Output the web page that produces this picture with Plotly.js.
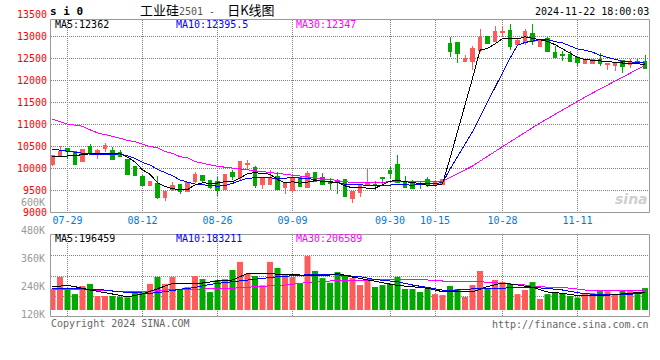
<!DOCTYPE html>
<html><head><meta charset="utf-8">
<script src="https://cdn.plot.ly/plotly-3.0.1.min.js"></script>
<style>
html,body{margin:0;padding:0;background:#fff;}
#chart{width:660px;height:360px;}
#chart .scatterlayer path.js-line{shape-rendering:crispEdges;}
#chart .boxlayer path{shape-rendering:crispEdges;}
</style>
</head><body><div id="chart"></div>
<script>
// ---------- data ----------
const TICK_IDX  = [2, 12, 22, 32, 45, 51, 60, 70];
const TICK_TEXT = ['07-29','08-12','08-26','09-09','09-30','10-15','10-28','11-11'];

const OPEN  = [10090,10290,10450,10380,10160,10490,10320,10460,10400,10360,10210,10045,9825,9625,9665,9350,9530,9640,9478,9713,
               9830,9730,9695,9522,9915,9801,10095,10034,9635,9640,9823,9560,9507,9801,9560,9898,9801,9700,9705,9748,
               9320,9462,9640,9640,9800,9966,10086,9673,9650,9655,9740,9640,9635,12838,12875,12434,12427,12691,13000,12890,
               13100,13132,12816,12860,13073,12779,12963,12632,12580,12596,12522,12390,12390,12485,12360,12340,12449,12360,12427,12427];
const HIGH  = [10305,10505,10460,10395,10440,10565,10450,10570,10500,10430,10215,10060,9860,9725,9830,9515,9690,9645,9700,9930,
               9860,9740,9800,9883,9960,10160,10190,10064,9790,9966,9913,9660,9823,9838,9951,9913,9898,9790,9760,9770,
               9500,9630,10005,9725,9810,10034,10310,9838,9733,9710,9800,9733,9750,12985,12880,12574,12794,13170,13022,13235,
               13235,13294,12963,13162,13294,12930,13000,12780,12670,12670,12530,12500,12500,12632,12395,12395,12460,12500,12485,12574];
const LOW   = [10060,10280,10220,10085,10140,10355,10210,10385,10200,10270,9855,9840,9600,9620,9310,9265,9490,9425,9465,9670,
               9700,9545,9372,9515,9750,9748,9980,9560,9545,9630,9515,9410,9470,9585,9555,9705,9620,9505,9430,9350,
               9210,9357,9635,9520,9640,9770,9673,9560,9530,9545,9590,9640,9630,12544,12397,12420,12250,12647,12830,12885,
               12985,12691,12810,12810,12816,12775,12660,12515,12448,12420,12338,12385,12385,12338,12228,12206,12177,12280,12380,12270];
const CLOSE = [10285,10390,10390,10095,10430,10360,10400,10530,10210,10280,9875,9850,9625,9715,9330,9478,9625,9478,9690,9867,
               9717,9575,9500,9861,9810,10154,10105,9613,9786,9786,9522,9650,9786,9590,9876,9710,9635,9650,9690,9357,
               9485,9613,9660,9630,9780,9876,9688,9575,9540,9645,9635,9680,9748,12669,12618,12500,12721,12985,12838,13110,
               13110,12765,12904,13110,12890,12912,12669,12522,12570,12427,12412,12449,12485,12390,12390,12390,12316,12412,12390,12280];

const MA5  = [10280,10270,10285,10290,10318,10333,10330,10340,10345,10340,10259,10149,9968,9869,9679,9590,9540,9520,9520,9628,
              9675,9665,9670,9700,9700,9780,9886,9905,9890,9870,9750,9671,9700,9667,9690,9722,9712,9692,9690,9605,
              9563,9559,9561,9552,9634,9712,9725,9710,9680,9660,9617,9615,9650,10230,10820,11420,12050,12690,12732,12831,
              12953,12962,12945,12995,12956,12916,12890,12815,12713,12620,12525,12476,12460,12433,12425,12418,12394,12382,12380,12362];
const MA10 = [10440,10415,10400,10375,10345,10325,10320,10320,10325,10330,10290,10230,10140,10080,9980,9910,9835,9740,9690,9645,
              9630,9608,9598,9613,9661,9728,9776,9790,9799,9790,9771,9779,9800,9780,9780,9742,9700,9699,9685,9640,
              9630,9620,9610,9615,9612,9630,9635,9630,9620,9645,9658,9665,9675,9984,10268,10530,10834,11175,11505,11851,
              12199,12507,12800,12866,12893,12934,12929,12883,12856,12788,12718,12687,12645,12573,12523,12471,12436,12425,12407,12395];
const MA30 = [11120,11060,11010,10985,10960,10880,10810,10770,10735,10690,10640,10610,10550,10500,10470,10390,10340,10270,10240,10160,
              10120,10080,10050,10030,10010,9990,9970,9950,9925,9915,9902,9877,9857,9840,9822,9800,9774,9745,9728,9697,
              9684,9676,9677,9674,9689,9703,9705,9708,9703,9696,9693,9697,9705,9798,9892,9970,10057,10170,10272,10383,
              10502,10605,10709,10826,10927,11034,11135,11231,11327,11429,11527,11622,11716,11808,11895,11979,12067,12161,12256,12344];

const VOLUME = [228000,280000,228000,206000,241000,250000,198000,198000,198000,195000,192000,215000,214000,250000,280000,250000,280000,225000,237000,284000,
                271000,215000,267000,271000,310000,345000,293000,284000,244000,345000,319000,288000,280000,253000,370000,306000,275000,255000,301000,284000,
                275000,245000,271000,237000,245000,250000,280000,228000,228000,215000,228000,206000,202000,241000,228000,194000,245000,306000,228000,267000,
                258000,250000,206000,224000,258000,185000,206000,211000,211000,198000,191000,206000,211000,219000,218000,206000,224000,224000,206000,232000];

const VMA5_IDX  = [0,2,3,5,8,10,12,14,16,19,22,24,26,28,30,33,37,38,40,42,44,46,48,50,52,54,56,58,60,62,64,66,68,70,73,75,77,79];
const VMA5      = [236700,244000,238000,224000,206500,193600,206500,228000,251800,249600,262500,266900,295700,294900,291400,288400,288400,294900,279800,266900,
                   253900,243100,238000,231100,216400,216400,215100,238800,253900,245300,235400,215100,209500,200000,197900,204300,210800,215100];
const VMA10_IDX = [0,4,6,8,10,13,15,17,19,21,24,26,28,30,33,35,37,39,41,43,46,48,50,52,54,57,59,62,64,66,68,70,72,75,77,79];
const VMA10     = [231000,229300,226800,219400,213000,209500,216400,226800,234500,248300,259500,266900,274200,281100,287100,291400,291400,285400,281100,269000,
                   259500,245300,235400,223700,223700,231100,231100,235400,235400,230200,223700,212100,205200,202200,205200,212100];
const VMA30_IDX = [0,4,8,13,15,20,24,27,29,31,33,35,37,41,46,50,52,57,60,63,66,68,71,75,79];
const VMA30     = [226800,226800,219400,219400,223700,226800,231100,238000,241000,245300,252600,259500,262500,266900,269900,266900,262500,259500,252600,245300,
                   235400,235400,223700,220700,219400];

const PRICE_TICKS = [9000,9500,10000,10500,11000,11500,12000,12500,13000,13500];
const VOL_TICKS = [120000,240000,360000,480000,600000];
const VOL_TICK_TEXT = ['120K','240K','360K','480K','600K'];

const HEAD_MAIN = ['MA5:12362','MA10:12395.5','MA30:12347'];
const HEAD_VOL  = ['MA5:196459','MA10:183211','MA30:206589'];

// ---------- styling / geometry ----------
const RED = '#ff5b5b', GREEN = '#00a800';
const MA_COLORS = ['#000000','#0000ff','#ff00ff'];
const MONO = 'DejaVu Sans Mono';
const W = 660, H = 360, ML = 51, MR = 10, MT = 10, MB = 43;
const PW = W - ML - MR, PH = H - MT - MB;
const py = p => (H - MB - p) / PH;   // pixel row -> paper y
const pxx = p => (p - ML) / PW;      // pixel col -> paper x

const PRICE_PER_PX = 500 / 22;
const mainBottomPx = 212.5, mainTopPx = 19.5;
const PRICE_MIN = 9000, PRICE_MAX = PRICE_MIN + (mainBottomPx - mainTopPx) * PRICE_PER_PX;
const priceToPx = p => mainBottomPx - (p - PRICE_MIN) / PRICE_PER_PX;

const VOL_PER_PX = 4312, VOL_BASE = 137500, volBasePx = 310, volTopPx = 234.5, volBottomPx = 316.5;
const VOL_MIN = VOL_BASE - (H - MB - volBasePx) * VOL_PER_PX;
const VOL_MAX = VOL_BASE + (volBasePx - volTopPx) * VOL_PER_PX;
const volToPx = v => volBasePx - (v - VOL_BASE) / VOL_PER_PX;
const VOL_GRID = [1,2,3].map(k => {
  const yy = Math.round(volTopPx + (volBottomPx - volTopPx) * k / 4) + 0.5;
  return VOL_BASE + (volBasePx - yy) * VOL_PER_PX;
});

const FIRST_PX = 52.5, STEP_PX = 7.5;
const X_MIN = (ML - FIRST_PX) / STEP_PX, X_MAX = (W - MR - FIRST_PX) / STEP_PX;

const idx = OPEN.map((_, i) => i);
const up = idx.map(i => CLOSE[i] >= OPEN[i]);

const GRIDC = '#808080', GRIDDASH = '1px,1px';
const FRAME = {color:'#999999', width:1};

const traces = [
  {type:'candlestick', x: idx, open: OPEN, high: HIGH, low: LOW, close: CLOSE,
   increasing:{line:{color:RED,width:1}, fillcolor:RED},
   decreasing:{line:{color:GREEN,width:1}, fillcolor:GREEN},
   whiskerwidth:0, hoverinfo:'skip', xaxis:'x', yaxis:'y'},
  {type:'scatter', mode:'lines', x: idx, y: MA30, line:{color:MA_COLORS[2], width:1}, xaxis:'x', yaxis:'y', hoverinfo:'skip'},
  {type:'scatter', mode:'lines', x: idx, y: MA10, line:{color:MA_COLORS[1], width:1}, xaxis:'x', yaxis:'y', hoverinfo:'skip'},
  {type:'scatter', mode:'lines', x: idx, y: MA5,  line:{color:MA_COLORS[0], width:1}, xaxis:'x', yaxis:'y', hoverinfo:'skip'},
  {type:'bar', x: idx, y: VOLUME.map(v => v - VOL_BASE), base: VOL_BASE, width: 0.8,
   marker:{color: up.map(u => u ? RED : GREEN), line:{width:0}}, xaxis:'x2', yaxis:'y2', hoverinfo:'skip'},
  {type:'scatter', mode:'lines', x: VMA30_IDX, y: VMA30, line:{color:MA_COLORS[2], width:1}, xaxis:'x2', yaxis:'y2', hoverinfo:'skip'},
  {type:'scatter', mode:'lines', x: VMA10_IDX, y: VMA10, line:{color:MA_COLORS[1], width:1}, xaxis:'x2', yaxis:'y2', hoverinfo:'skip'},
  {type:'scatter', mode:'lines', x: VMA5_IDX,  y: VMA5,  line:{color:MA_COLORS[0], width:1}, xaxis:'x2', yaxis:'y2', hoverinfo:'skip'}
];

const shapes = [
  {type:'rect', xref:'paper', yref:'paper', x0:pxx(50.5), x1:pxx(649.5), y0:py(mainBottomPx), y1:py(mainTopPx), line:FRAME},
  {type:'rect', xref:'paper', yref:'paper', x0:pxx(50.5), x1:pxx(649.5), y0:py(volBottomPx), y1:py(volTopPx), line:FRAME}
];

function txt(text, x, y, opts) {
  return Object.assign({text, xref:'paper', yref:'paper', x:pxx(x), y:py(y), showarrow:false,
    xanchor:'left', yanchor:'middle', borderpad:0,
    font:{family:MONO, size:10, color:'#000'}}, opts || {});
}
const ann = [];
ann.push(txt('<b>s i 0</b>', 48.5, 11.5, {font:{family:MONO, size:11, color:'#000'}}));
ann.push(txt('工业硅<span style="font-family:DejaVu Sans Mono;font-size:10px;color:#555">2501 -  </span>日K线图', 139, 9.5,
  {font:{family:'Noto Sans CJK SC', size:13, color:'#000'}}));
ann.push(txt('2024-11-22 18:00:03', 649.5, 11.5, {xanchor:'right'}));
const HEAD_X = [54, 175, 295];
HEAD_MAIN.forEach((t, k) => ann.push(txt(t, HEAD_X[k], 24, {font:{family:MONO, size:10, color:MA_COLORS[k]}})));
HEAD_VOL.forEach((t, k) => ann.push(txt(t, HEAD_X[k], 238.5, {font:{family:MONO, size:10, color:MA_COLORS[k]}})));
// price labels above the frame top (outside the drawn axis range)
PRICE_TICKS.filter(p => p > PRICE_MAX).forEach(p =>
  ann.push(txt(String(p), 48, priceToPx(p), {xanchor:'right', font:{family:MONO, size:10, color:'#ff0000'}})));
// volume scale labels
VOL_TICKS.forEach((v, k) =>
  ann.push(txt(VOL_TICK_TEXT[k], 46, volToPx(v), {xanchor:'right', font:{family:MONO, size:10, color:'#999'}})));
ann.push(txt('Copyright 2024 SINA.COM', 50, 323.5, {font:{family:MONO, size:10, color:'#666'}}));
ann.push(txt('http://finance.sina.com.cn', 650, 324, {xanchor:'right', font:{family:MONO, size:10, color:'#666'}}));
ann.push(txt('<b><i>sina</i></b>', 649, 199, {xanchor:'right', font:{family:'DejaVu Sans', size:14, color:'#cfcfcf'}}));

const layout = {
  width: W, height: H, margin:{l:ML, r:MR, t:MT, b:MB, pad:0},
  paper_bgcolor:'#fff', plot_bgcolor:'rgba(0,0,0,0)',
  showlegend:false, hovermode:false, boxgap:0.3,
  xaxis:{domain:[0,1], range:[X_MIN, X_MAX], tickvals:TICK_IDX, ticktext:TICK_TEXT,
         tickfont:{family:MONO, size:10, color:'#0078d7'},
         showgrid:true, gridcolor:GRIDC, gridwidth:1, griddash:GRIDDASH,
         zeroline:false, showline:false, ticks:'', anchor:'y', rangeslider:{visible:false}, fixedrange:true},
  yaxis:{domain:[py(mainBottomPx), py(mainTopPx)], range:[PRICE_MIN, PRICE_MAX],
         tickvals:PRICE_TICKS.filter(p => p <= PRICE_MAX), ticktext:PRICE_TICKS.filter(p => p <= PRICE_MAX).map(String),
         tickfont:{family:MONO, size:10, color:'#ff0000'},
         showgrid:true, gridcolor:GRIDC, gridwidth:1, griddash:GRIDDASH,
         zeroline:false, showline:false, ticks:'', ticklabelstandoff:3, anchor:'x', fixedrange:true},
  xaxis2:{domain:[0,1], range:[X_MIN, X_MAX], tickvals:TICK_IDX, showticklabels:false,
          showgrid:true, gridcolor:GRIDC, gridwidth:1, griddash:GRIDDASH,
          zeroline:false, showline:false, ticks:'', anchor:'y2', fixedrange:true},
  yaxis2:{domain:[0, py(volTopPx)], range:[VOL_MIN, VOL_MAX], tickvals:VOL_GRID, showticklabels:false,
          showgrid:true, gridcolor:GRIDC, gridwidth:1, griddash:GRIDDASH,
          zeroline:false, showline:false, ticks:'', anchor:'x2', fixedrange:true},
  shapes, annotations: ann
};
Plotly.newPlot('chart', traces, layout, {staticPlot:true, displayModeBar:false});
</script></body></html>
